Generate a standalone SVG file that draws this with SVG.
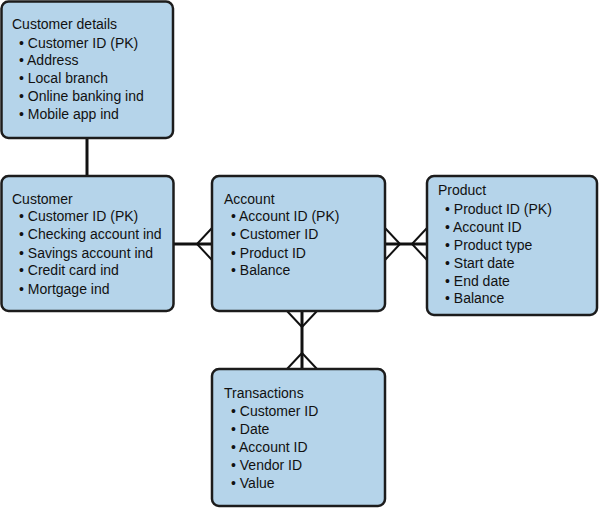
<svg xmlns="http://www.w3.org/2000/svg" width="600" height="509" viewBox="0 0 600 509">
<style>
.box{fill:#b5d4ea;stroke:#1c1c1c;stroke-width:2.5}
text{font-family:"Liberation Sans",Arial,sans-serif;font-size:14px;fill:#111}
.c{fill:none;stroke:#111;stroke-width:3}
.f{fill:none;stroke:#111;stroke-width:2}
</style>
<rect width="600" height="509" fill="#fff"/>
<g id="connectors">
<line class="c" x1="87" y1="138" x2="87" y2="176"/>
<line class="c" x1="174" y1="244" x2="212" y2="244"/>
<polyline class="f" points="212,228 197,244 212,260"/>
<line class="c" x1="385" y1="244" x2="427" y2="244"/>
<polyline class="f" points="385,228 400,244 385,260"/>
<polyline class="f" points="427,228 412,244 427,260"/>
<line class="c" x1="302" y1="311" x2="302" y2="369"/>
<polyline class="f" points="287,311 302,327 317,311"/>
<polyline class="f" points="287,369 302,353 317,369"/>
</g>
<g id="customer-details">
<rect class="box" x="1.5" y="1.5" width="171.5" height="136.5" rx="7"/>
<text x="12" y="29">Customer details</text>
<text x="19" y="48">• Customer ID (PK)</text>
<text x="19" y="65">• Address</text>
<text x="19" y="83">• Local branch</text>
<text x="19" y="101">• Online banking ind</text>
<text x="19" y="119">• Mobile app ind</text>
</g>
<g id="customer">
<rect class="box" x="1.5" y="176" width="172" height="135" rx="7"/>
<text x="12" y="204">Customer</text>
<text x="19" y="221">• Customer ID (PK)</text>
<text x="19" y="239">• Checking account ind</text>
<text x="19" y="258">• Savings account ind</text>
<text x="19" y="275">• Credit card ind</text>
<text x="19" y="294">• Mortgage ind</text>
</g>
<g id="account">
<rect class="box" x="212" y="176" width="173" height="135" rx="7"/>
<text x="224" y="204">Account</text>
<text x="231" y="221">• Account ID (PK)</text>
<text x="231" y="239">• Customer ID</text>
<text x="231" y="258">• Product ID</text>
<text x="231" y="275">• Balance</text>
</g>
<g id="product">
<rect class="box" x="427" y="176" width="170" height="139" rx="7"/>
<text x="438" y="195">Product</text>
<text x="445" y="214">• Product ID (PK)</text>
<text x="445" y="232">• Account ID</text>
<text x="445" y="250">• Product type</text>
<text x="445" y="268">• Start date</text>
<text x="445" y="286">• End date</text>
<text x="445" y="303">• Balance</text>
</g>
<g id="transactions">
<rect class="box" x="212" y="369" width="173" height="137" rx="7"/>
<text x="224" y="398">Transactions</text>
<text x="231" y="416">• Customer ID</text>
<text x="231" y="434">• Date</text>
<text x="231" y="452">• Account ID</text>
<text x="231" y="470">• Vendor ID</text>
<text x="231" y="488">• Value</text>
</g>
</svg>
